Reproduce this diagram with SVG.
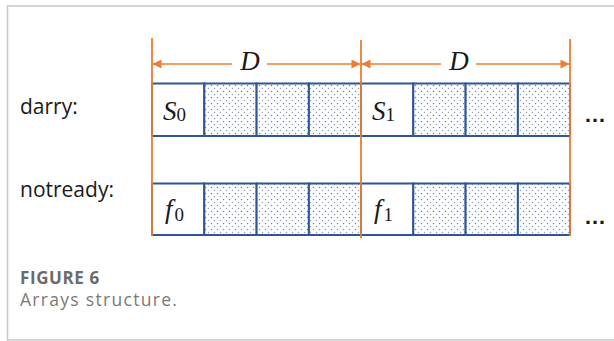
<svg xmlns="http://www.w3.org/2000/svg" width="614" height="341" viewBox="0 0 614 341">
<style>
.frame{fill:none;stroke:#c8c8c8;stroke-width:1.5}
.cell{fill:#fff;stroke:#2f5597;stroke-width:2}
.dot{fill:url(#dots);stroke:#2f5597;stroke-width:2}
.guide{stroke:#ed7d31;stroke-width:1.8;fill:none}
.dim{stroke:#ed7d31;stroke-width:1.5;fill:none}
.lbl{font-family:"Open Sans","Liberation Sans",sans-serif;font-size:21px;fill:#1a1a1a}
.math{font-family:"Liberation Serif","DejaVu Serif",serif;font-size:27px;font-style:italic;fill:#1a1a1a}
.sub{font-family:"Liberation Serif","DejaVu Serif",serif;font-size:19px;font-style:normal;fill:#1a1a1a}
.cap1{font-family:"Open Sans","Liberation Sans",sans-serif;font-size:17px;font-weight:bold;letter-spacing:0.6px;fill:#6b6b6b}
.cap2{font-family:"Open Sans","Liberation Sans",sans-serif;font-size:17.5px;letter-spacing:1.3px;fill:#7a7a7a}
.ell{font-family:"Liberation Sans",sans-serif;font-size:22px;font-weight:bold;fill:#1a1a1a}
</style>
<defs>
<pattern id="dots" width="6" height="6" patternUnits="userSpaceOnUse">
<rect width="6" height="6" fill="#fff"/>
<circle cx="1.5" cy="1.5" r="0.75" fill="#6f86ad"/>
<circle cx="4.5" cy="4.5" r="0.75" fill="#8ea1c2"/>
</pattern>
<marker id="arr" viewBox="0 0 10 10" refX="10" refY="5" markerWidth="10" markerHeight="9" markerUnits="userSpaceOnUse" orient="auto-start-reverse">
<path d="M0,0 L10,5 L0,10 Z" fill="#ed7d31"/>
</marker>
</defs>
<rect width="614" height="341" fill="#fff"/>
<path class="frame" d="M614,6 H7.5 V340 H614"/>

<g id="label-darry"><text class="lbl" x="20" y="114">darry:</text></g>
<g id="label-notready"><text class="lbl" x="20" y="197">notready:</text></g>

<g id="darry-array">
<rect class="cell" x="152" y="83.5" width="52.3" height="52.5"/>
<rect class="dot" x="204.3" y="83.5" width="52.3" height="52.5"/>
<rect class="dot" x="256.6" y="83.5" width="52.3" height="52.5"/>
<rect class="dot" x="308.9" y="83.5" width="52.1" height="52.5"/>
<rect class="cell" x="361" y="83.5" width="52.3" height="52.5"/>
<rect class="dot" x="413.3" y="83.5" width="52.3" height="52.5"/>
<rect class="dot" x="465.6" y="83.5" width="52.3" height="52.5"/>
<rect class="dot" x="517.9" y="83.5" width="52.1" height="52.5"/>
<text class="math" x="163" y="120">S<tspan class="sub" dx="0" dy="1">0</tspan></text>
<text class="math" x="372" y="120">S<tspan class="sub" dx="0" dy="1">1</tspan></text>
<text class="ell" x="584" y="122">…</text>
</g>

<g id="notready-array">
<rect class="cell" x="152" y="183.5" width="52.3" height="51.5"/>
<rect class="dot" x="204.3" y="183.5" width="52.3" height="51.5"/>
<rect class="dot" x="256.6" y="183.5" width="52.3" height="51.5"/>
<rect class="dot" x="308.9" y="183.5" width="52.1" height="51.5"/>
<rect class="cell" x="361" y="183.5" width="52.3" height="51.5"/>
<rect class="dot" x="413.3" y="183.5" width="52.3" height="51.5"/>
<rect class="dot" x="465.6" y="183.5" width="52.3" height="51.5"/>
<rect class="dot" x="517.9" y="183.5" width="52.1" height="51.5"/>
<text class="math" x="165" y="218">f<tspan class="sub" dx="2" dy="3">0</tspan></text>
<text class="math" x="374" y="218">f<tspan class="sub" dx="2" dy="3">1</tspan></text>
<text class="ell" x="584" y="224">…</text>
</g>

<g id="connectors">
<line class="guide" x1="152" y1="38" x2="152" y2="236"/>
<line class="guide" x1="361" y1="40" x2="361" y2="238"/>
<line class="guide" x1="570" y1="39" x2="570" y2="236"/>
<line class="dim" x1="232" y1="64" x2="152.5" y2="64" marker-end="url(#arr)"/>
<line class="dim" x1="267" y1="64" x2="360.5" y2="64" marker-end="url(#arr)"/>
<line class="dim" x1="441" y1="64" x2="361.5" y2="64" marker-end="url(#arr)"/>
<line class="dim" x1="476" y1="64" x2="569.5" y2="64" marker-end="url(#arr)"/>
<text class="math" x="250" y="70" text-anchor="middle" font-size="19">D</text>
<text class="math" x="459" y="70" text-anchor="middle" font-size="19">D</text>
</g>

<g id="caption">
<text class="cap1" x="20" y="284">FIGURE 6</text>
<text class="cap2" x="20" y="306">Arrays structure.</text>
</g>
</svg>
